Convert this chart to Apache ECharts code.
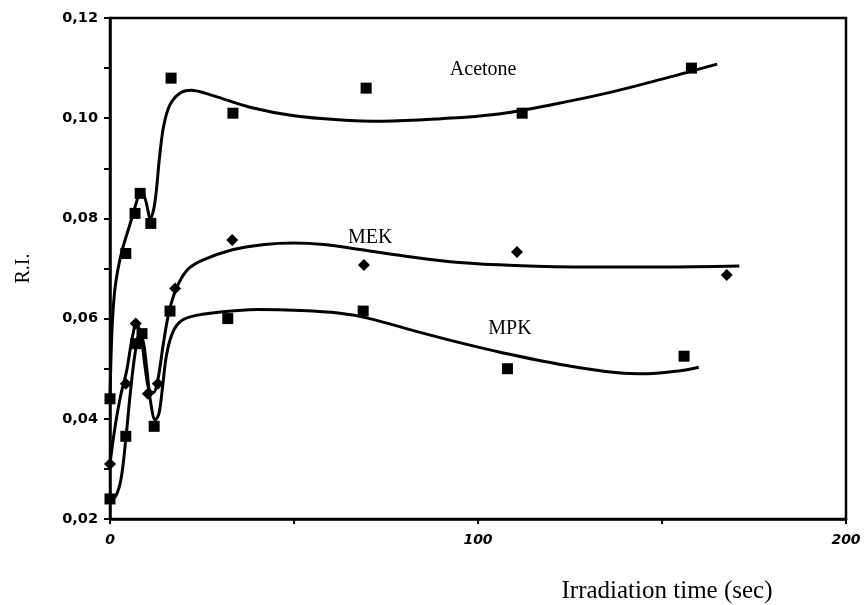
<!DOCTYPE html>
<html>
<head>
<meta charset="utf-8">
<script src="https://cdn.jsdelivr.net/npm/echarts@6/dist/echarts.min.js"></script>
<style>
  html, body { margin: 0; padding: 0; background: #fff; }
  #chart { width: 864px; height: 605px; }
</style>
</head>
<body>
<div id="chart"></div>
<script>
// Measured points (time in s, relative intensity)
const acetonePoints = [[0,0.044],[4.3,0.073],[6.8,0.081],[8.2,0.085],[11.1,0.079],[16.6,0.108],[33.4,0.101],[69.6,0.106],[112,0.101],[158,0.110]];
const mekPoints = [[0,0.031],[4.3,0.047],[7,0.059],[10.3,0.045],[13,0.047],[17.7,0.066],[33.2,0.0757],[69,0.0707],[110.6,0.0733],[167.6,0.0687]];
const mpkPoints = [[0,0.024],[4.3,0.0365],[7,0.055],[8.7,0.057],[12,0.0385],[16.3,0.0615],[32,0.060],[68.8,0.0615],[108,0.050],[156,0.0525]];

// Hand-fitted trend curves
const acetoneCurve = [[0,0.044],[0.5,0.057],[1.2,0.065],[2.2,0.070],[3.5,0.0742],[5.5,0.079],[7.3,0.0835],[8.4,0.0857],[9.6,0.0838],[11,0.0800],[12.2,0.0832],[13.5,0.0925],[14.6,0.0985],[16.3,0.1027],[19,0.1050],[22,0.1056],[28,0.1045],[38,0.1022],[50,0.1005],[62,0.0997],[74,0.0994],[90,0.0999],[105,0.1008],[120,0.1027],[135,0.1050],[150,0.1078],[158,0.1094],[165,0.1108]];
const mekCurve = [[0,0.031],[1.5,0.039],[3,0.045],[4.5,0.0495],[6,0.056],[7.2,0.0592],[8.5,0.056],[9.6,0.050],[10.6,0.0458],[11.8,0.0452],[13,0.0478],[14.5,0.055],[16,0.0612],[18,0.0660],[21,0.0697],[25,0.0716],[33,0.0737],[42,0.0748],[50,0.0751],[58,0.0748],[68,0.0738],[80,0.0725],[95,0.0712],[110,0.0706],[130,0.0703],[150,0.0703],[171,0.0705]];
const mpkCurve = [[0,0.024],[1.5,0.0245],[3,0.028],[4.3,0.036],[5.5,0.045],[6.8,0.053],[8,0.0568],[9,0.0555],[10,0.050],[11,0.0435],[12.3,0.0398],[13.3,0.0410],[14.3,0.0465],[15.3,0.0525],[16.8,0.0568],[18.8,0.0592],[22,0.0604],[30,0.0613],[40,0.0618],[52,0.0616],[62,0.0611],[70,0.0601],[84,0.0573],[95,0.0552],[106,0.0533],[122,0.0509],[138,0.0492],[146,0.0490],[155,0.0496],[160,0.0503]];

// Curve name labels, placed in data coordinates
const curveLabels = [
  { name: 'Acetone', value: [101.4, 0.1096] },
  { name: 'MEK', value: [70.7, 0.0761] },
  { name: 'MPK', value: [108.7, 0.0579] }
];

const xTickLabels = [0, 100, 200];

const chart = echarts.init(document.getElementById('chart'));

const lineStyle = { color: '#000', width: 3 };
const markStyle = { color: '#000', opacity: 1 };

chart.setOption({
  animation: false,
  backgroundColor: '#fff',
  grid: {
    left: 110, top: 18, right: 18, bottom: 86,
    containLabel: false, outerBoundsMode: 'none',
    show: true, borderColor: '#000', borderWidth: 2.5, backgroundColor: 'transparent'
  },
  xAxis: {
    type: 'value', min: 0, max: 200, interval: 50,
    name: 'Irradiation time (sec)',
    nameLocation: 'middle', nameGap: 60,
    nameTextStyle: { fontFamily: 'Liberation Serif', fontSize: 25, color: '#000', padding: [0, 0, 0, 378] },
    axisLine: { lineStyle: { color: '#000', width: 2.5 } },
    axisTick: { show: true, inside: false, length: 5, lineStyle: { color: '#000', width: 2 } },
    axisLabel: {
      margin: 14, color: '#000', fontFamily: 'DejaVu Sans', fontStyle: 'italic', fontSize: 14, fontWeight: 'bold',
      formatter: v => xTickLabels.includes(v) ? String(v) : ''
    },
    splitLine: { show: false }
  },
  yAxis: {
    type: 'value', min: 0.02, max: 0.12, interval: 0.01,
    name: 'R.I.',
    nameLocation: 'middle', nameGap: 76, nameRotate: 90,
    nameTextStyle: { fontFamily: 'Liberation Serif', fontSize: 20, color: '#000' },
    axisLine: { lineStyle: { color: '#000', width: 2.5 } },
    axisTick: { show: true, inside: false, length: 6, lineStyle: { color: '#000', width: 2 } },
    axisLabel: {
      margin: 12, color: '#000', fontFamily: 'DejaVu Sans', fontSize: 14.5, fontWeight: 'bold',
      formatter: v => (Math.round(v * 100) % 2 === 0) ? v.toFixed(2).replace('.', ',') : ''
    },
    splitLine: { show: false }
  },
  series: [
    { type: 'line', data: acetoneCurve, smooth: 0.35, showSymbol: false, lineStyle, z: 2 },
    { type: 'line', data: mekCurve, smooth: 0.35, showSymbol: false, lineStyle, z: 2 },
    { type: 'line', data: mpkCurve, smooth: 0.35, showSymbol: false, lineStyle, z: 2 },
    { type: 'scatter', data: acetonePoints, symbol: 'rect', symbolSize: 11, itemStyle: markStyle, clip: false, z: 3 },
    { type: 'scatter', data: mekPoints, symbol: 'diamond', symbolSize: 12, itemStyle: markStyle, clip: false, z: 3 },
    { type: 'scatter', data: mpkPoints, symbol: 'rect', symbolSize: 11, itemStyle: markStyle, clip: false, z: 3 },
    {
      type: 'scatter', data: curveLabels, symbolSize: 0, silent: true, z: 4,
      itemStyle: { opacity: 1 },
      label: {
        show: true, position: 'inside', formatter: p => p.name,
        fontFamily: 'Liberation Serif', fontSize: 20, color: '#000'
      }
    }
  ]
});
</script>
</body>
</html>
